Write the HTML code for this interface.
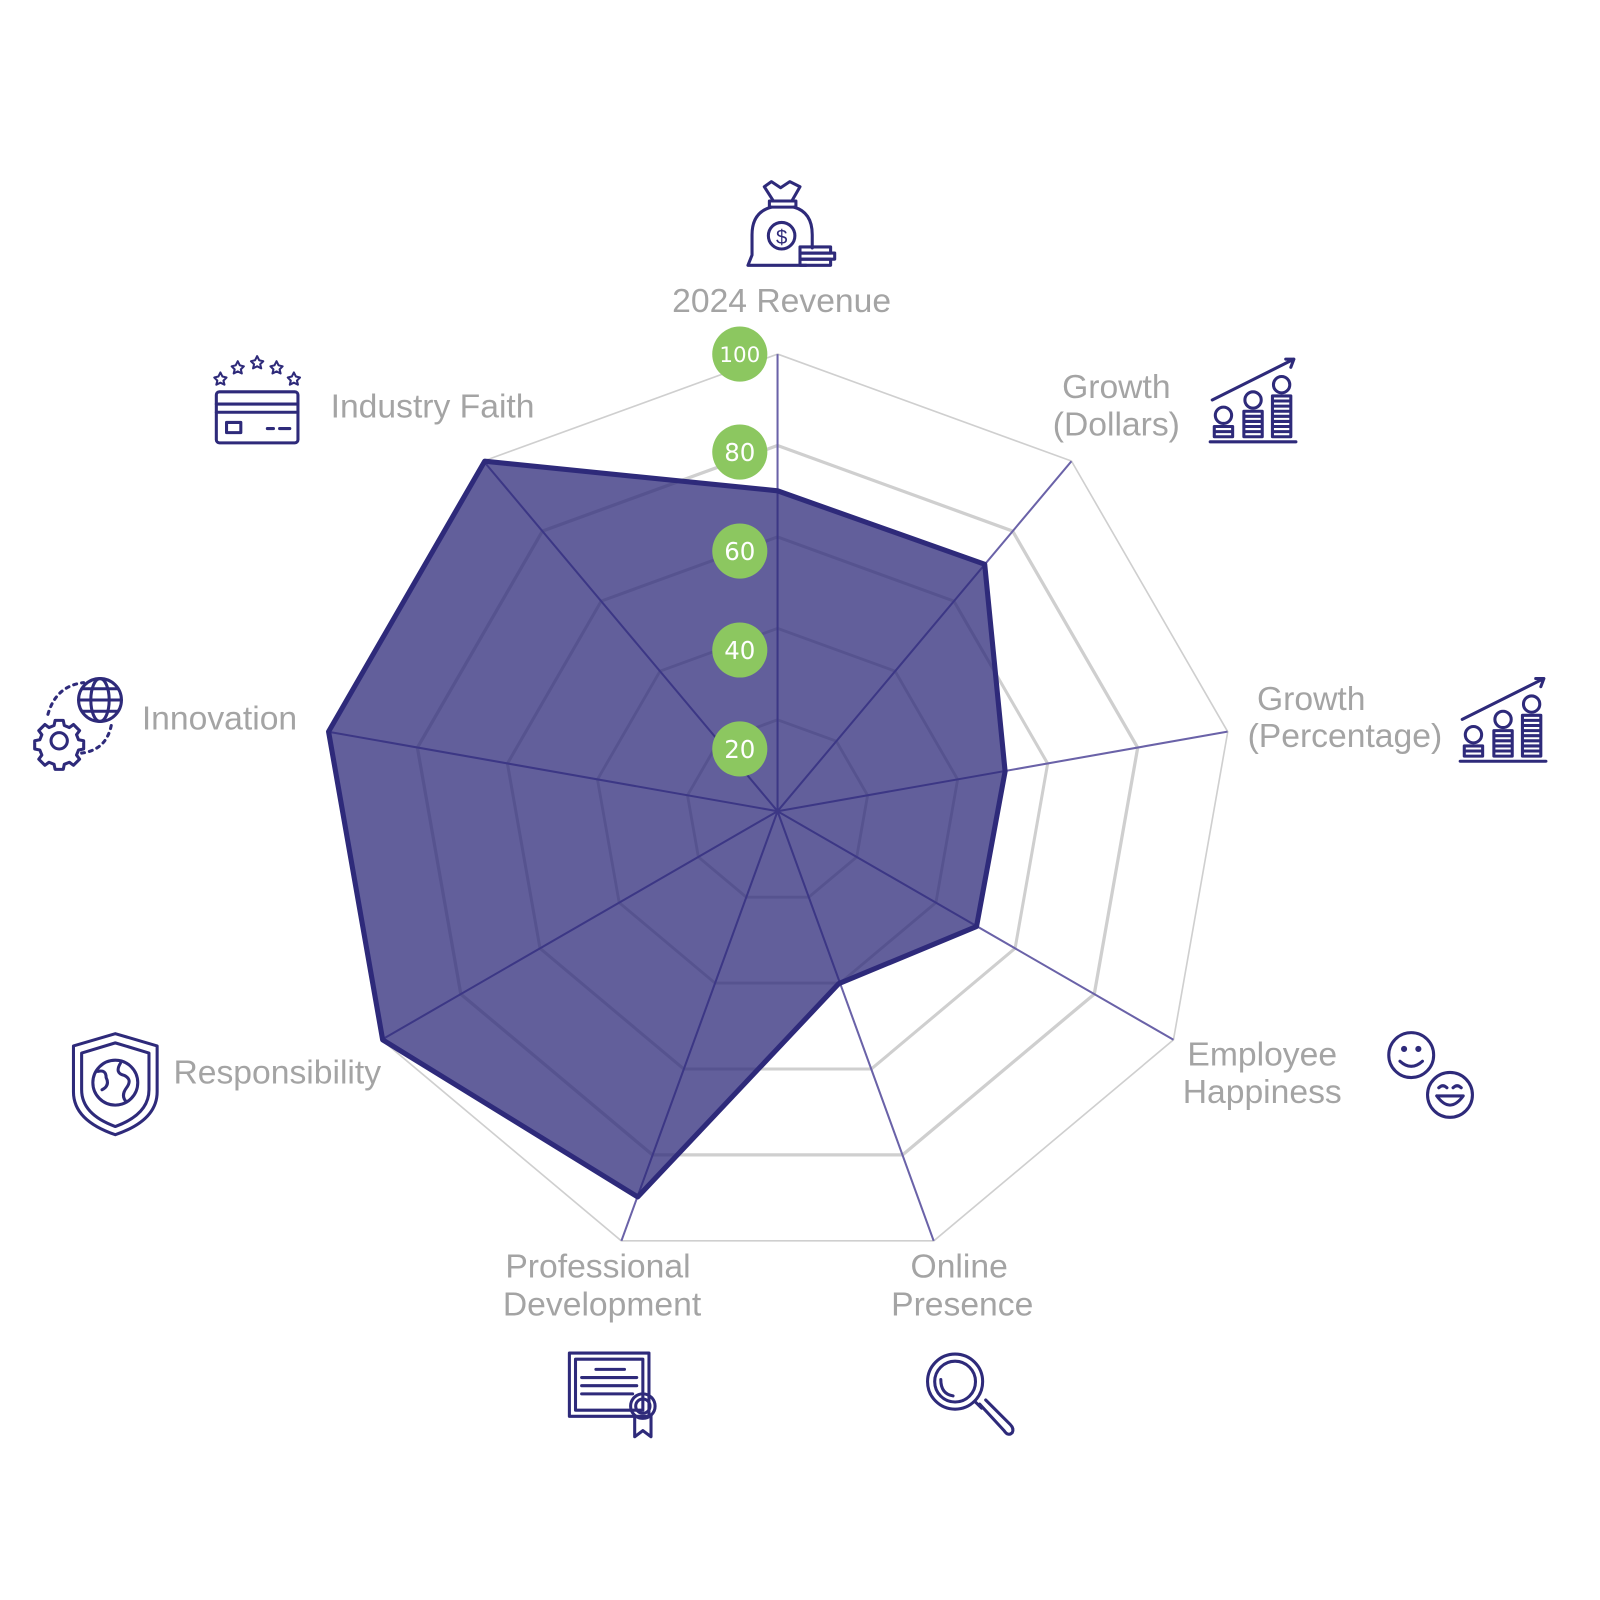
<!DOCTYPE html>
<html><head><meta charset="utf-8"><style>
html,body{margin:0;padding:0;background:#fff;}
svg{display:block;}
.lb{font-family:"Liberation Sans",sans-serif;font-size:33px;fill:#a4a4a4;}
.gn{font-family:"DejaVu Sans","Liberation Sans",sans-serif;font-size:24px;fill:#fff;text-anchor:middle;}
.ic{fill:none;stroke:#2e2a7a;stroke-width:3;stroke-linejoin:round;stroke-linecap:round;}
</style></head><body>
<svg width="1600" height="1600" viewBox="0 0 1600 1600" xmlns="http://www.w3.org/2000/svg">
<defs>
<polygon id="ring" points="0,-448 288,-343.2 441.2,-77.8 388,224 153.2,421 -153.2,421 -388,224 -441.2,-77.8 -288,-343.2"/>
</defs>
<g transform="scale(1.0204)">
<g transform="translate(762,795)" fill="none" stroke="#cfcfcf">
 <use href="#ring" stroke-width="1.6"/>
 <g transform="scale(0.8)"><use href="#ring" stroke-width="4" /></g>
 <g transform="scale(0.6)"><use href="#ring" stroke-width="5" /></g>
 <g transform="scale(0.4)"><use href="#ring" stroke-width="7" /></g>
 <g transform="scale(0.2)"><use href="#ring" stroke-width="14" /></g>
</g>
<g stroke="#6a62a8" stroke-width="2">
 <line x1="762" y1="795" x2="762" y2="347"/>
 <line x1="762" y1="795" x2="1050" y2="452"/>
 <line x1="762" y1="795" x2="1203" y2="717"/>
 <line x1="762" y1="795" x2="1150" y2="1019"/>
 <line x1="762" y1="795" x2="915" y2="1216"/>
 <line x1="762" y1="795" x2="609" y2="1216"/>
 <line x1="762" y1="795" x2="374" y2="1019"/>
 <line x1="762" y1="795" x2="321" y2="717"/>
 <line x1="762" y1="795" x2="474" y2="452"/>
</g>
<polygon points="762,481 965,553 985,756 957,908 822,964 625,1173 375,1019 322,717 475,452" fill="#2e2a7a" fill-opacity="0.75" stroke="#2e2a7a" stroke-width="5" stroke-linejoin="round"/>
<g fill="#8cc760">
 <circle cx="725" cy="347" r="27"/><circle cx="725" cy="443" r="27"/><circle cx="725" cy="540" r="27"/><circle cx="725" cy="637" r="27"/><circle cx="725" cy="734" r="27"/>
</g>
<text class="gn" x="725" y="355" style="font-size:21px">100</text>
<text class="gn" x="725" y="452">80</text>
<text class="gn" x="725" y="549">60</text>
<text class="gn" x="725" y="646">40</text>
<text class="gn" x="725" y="743">20</text>

<text class="lb" x="766" y="306" text-anchor="middle">2024 Revenue</text>
<text class="lb" x="1094" y="390" text-anchor="middle">Growth</text>
<text class="lb" x="1094" y="427" text-anchor="middle">(Dollars)</text>
<text class="lb" x="1285" y="696" text-anchor="middle">Growth</text>
<text class="lb" x="1318" y="732" text-anchor="middle">(Percentage)</text>
<text class="lb" x="1237" y="1044" text-anchor="middle">Employee</text>
<text class="lb" x="1237" y="1081" text-anchor="middle">Happiness</text>
<text class="lb" x="940" y="1252" text-anchor="middle">Online</text>
<text class="lb" x="943" y="1289" text-anchor="middle">Presence</text>
<text class="lb" x="586" y="1252" text-anchor="middle">Professional</text>
<text class="lb" x="590" y="1289" text-anchor="middle">Development</text>
<text class="lb" x="170" y="1062">Responsibility</text>
<text class="lb" x="139" y="715">Innovation</text>
<text class="lb" x="324" y="409">Industry Faith</text>

<g class="ic">
 <path d="M756,178 L765,184 L774,178 L784,183 L776,197 L758,197 L749,183 Z"/>
 <rect x="754" y="197" width="26" height="6"/>
 <path d="M756,203 Q737,208 737,230 L737,250 L733,260 L790,260"/>
 <path d="M778,203 Q796,208 796,230 L796,243"/>
 <circle cx="766" cy="231" r="13"/>
 <text x="766" y="239" style="font-family:'Liberation Sans';font-size:20px;fill:#2e2a7a;stroke:none;text-anchor:middle">$</text>
 <rect x="784" y="242" width="30" height="6"/><rect x="784" y="248" width="34" height="6"/><rect x="784" y="254" width="30" height="6"/>
</g>
<g class="ic" stroke-width="2.5">
 <path d="M1188,392 L1268,352 M1260,352 L1268,352 L1265,360"/>
 <circle cx="1199" cy="407" r="8"/><circle cx="1228" cy="392" r="8"/><circle cx="1256" cy="377" r="8"/>
 <path d="M1190,418h18v5h-18zM1190,423h18v5h-18zM1219,403h18v5h-18zM1219,408h18v5h-18zM1219,413h18v5h-18zM1219,418h18v5h-18zM1219,423h18v5h-18zM1247,388h18v5h-18zM1247,393h18v5h-18zM1247,398h18v5h-18zM1247,403h18v5h-18zM1247,408h18v5h-18zM1247,413h18v5h-18zM1247,418h18v5h-18zM1247,423h18v5h-18z"/>
 <path d="M1186,433 H1270"/>
</g>
<g class="ic" stroke-width="2.5" transform="translate(245,313)">
 <path d="M1188,392 L1268,352 M1260,352 L1268,352 L1265,360"/>
 <circle cx="1199" cy="407" r="8"/><circle cx="1228" cy="392" r="8"/><circle cx="1256" cy="377" r="8"/>
 <path d="M1190,418h18v5h-18zM1190,423h18v5h-18zM1219,403h18v5h-18zM1219,408h18v5h-18zM1219,413h18v5h-18zM1219,418h18v5h-18zM1219,423h18v5h-18zM1247,388h18v5h-18zM1247,393h18v5h-18zM1247,398h18v5h-18zM1247,403h18v5h-18zM1247,408h18v5h-18zM1247,413h18v5h-18zM1247,418h18v5h-18zM1247,423h18v5h-18z"/>
 <path d="M1186,433 H1270"/>
</g>
<g class="ic">
 <circle cx="1383" cy="1034" r="22"/><circle cx="1376" cy="1028" r="1.5"/><circle cx="1390" cy="1028" r="1.5"/>
 <path d="M1372,1040 Q1383,1050 1394,1040"/>
 <circle cx="1421" cy="1073" r="22"/><path d="M1410,1066 q4,-4 8,0 M1424,1066 q4,-4 8,0 M1408,1074 H1434 Q1421,1092 1408,1074"/>
</g>
<g class="ic">
 <circle cx="936" cy="1354" r="27"/><circle cx="936" cy="1354" r="20"/>
 <path d="M922,1352 Q922,1366 934,1368"/>
 <path d="M956,1374 L962,1380 M960,1376 L984,1402 Q988,1408 992,1404 Q994,1400 990,1396 L966,1372"/>
</g>
<g class="ic" stroke-width="2.5">
 <rect x="558" y="1326" width="78" height="62"/><rect x="564" y="1332" width="66" height="50"/>
 <path d="M584,1342 H612 M570,1350 H624 M570,1358 H624 M570,1366 H620"/>
 <circle cx="630" cy="1378" r="12"/><circle cx="630" cy="1378" r="7"/>
 <path d="M622,1388 V1408 L630,1402 L638,1408 V1388"/>
</g>
<g class="ic">
 <path d="M113,1013 L154,1025 L154,1070 Q154,1098 113,1112 Q72,1098 72,1070 L72,1025 Z"/>
 <path d="M113,1022 L146,1032 L146,1068 Q146,1092 113,1104 Q80,1092 80,1068 L80,1032 Z"/>
 <circle cx="113" cy="1061" r="22"/>
 <path d="M96,1050 Q104,1048 104,1056 Q108,1064 100,1068 M118,1042 Q112,1052 122,1054 Q130,1058 124,1066 Q118,1074 124,1080"/>
</g>
<g class="ic">
 <circle cx="98" cy="686" r="21"/><ellipse cx="98" cy="686" rx="9" ry="21"/><path d="M77,686 H119 M81,675 H115 M81,697 H115"/>
 <path d="M47,700 Q55,672 82,669 M109,711 Q104,735 80,738" stroke-dasharray="3 5"/>
 <circle cx="58" cy="726" r="8"/>
 <path d="M54,706 h8 l1,5 5,2 4,-3 6,6 -3,4 2,5 5,1 v8 l-5,1 -2,5 3,4 -6,6 -4,-3 -5,2 -1,5 h-8 l-1,-5 -5,-2 -4,3 -6,-6 3,-4 -2,-5 -5,-1 v-8 l5,-1 2,-5 -3,-4 6,-6 4,3 5,-2 z"/>
</g>
<g class="ic" stroke-width="2.5">
 <rect x="212" y="384" width="80" height="50" rx="3"/>
 <path d="M212,396 H292 M212,404 H292 M262,420 H268 M274,420 H284"/>
 <rect x="222" y="414" width="14" height="10"/>
 <g stroke-width="2">
 <path d="M216,365 l2,4 4,1 -3,3 1,4 -4,-2 -4,2 1,-4 -3,-3 4,-1z"/>
 <path d="M233,354 l2,4 4,1 -3,3 1,4 -4,-2 -4,2 1,-4 -3,-3 4,-1z"/>
 <path d="M252,349 l2,4 4,1 -3,3 1,4 -4,-2 -4,2 1,-4 -3,-3 4,-1z"/>
 <path d="M271,354 l2,4 4,1 -3,3 1,4 -4,-2 -4,2 1,-4 -3,-3 4,-1z"/>
 <path d="M288,365 l2,4 4,1 -3,3 1,4 -4,-2 -4,2 1,-4 -3,-3 4,-1z"/>
 </g>
</g>
</g>
</svg>
</body></html>
